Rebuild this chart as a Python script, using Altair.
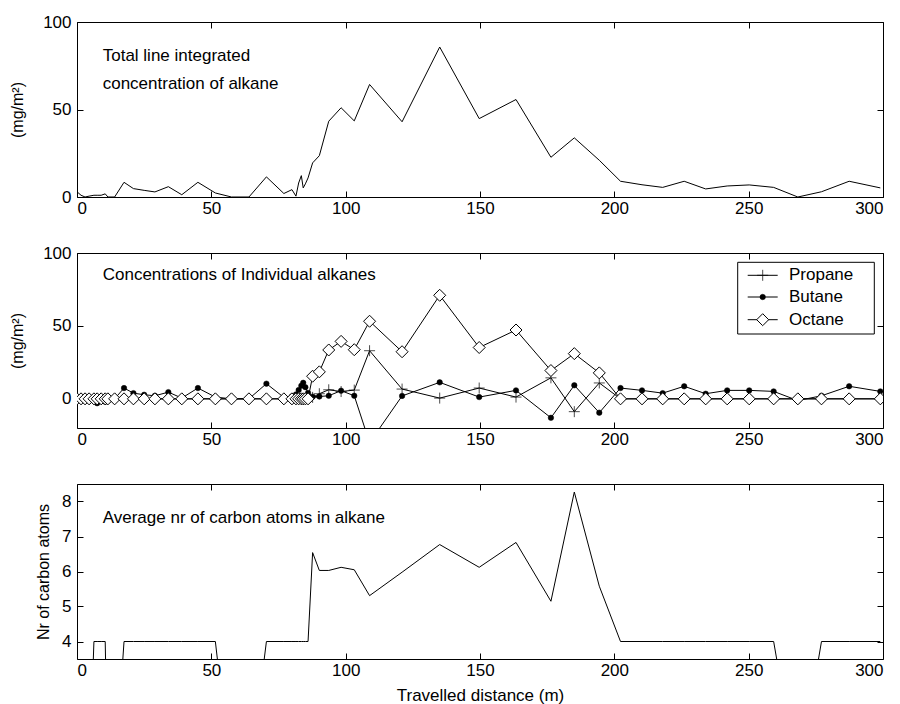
import altair as alt
import pandas as pd

# ---------------- data ----------------
distance = [0, 1.5, 3, 4.5, 6.3, 7.5, 9, 10.5, 11.5, 14, 17.5, 21, 25, 29, 34, 39, 45, 51.5,
            57.5, 64, 70.5, 77, 80, 81.5, 82.5, 83.5, 84.2, 85, 86, 87.7, 90.2, 93.7, 98.3,
            103.2, 108.9, 121, 135, 149.7, 163.4, 176.4, 185.1, 194.4, 202.3, 210.3, 218,
            226, 234, 242, 250.2, 259.3, 268.3, 277.1, 287.4, 299]

total = [3, 1, 0, 0.5, 1, 1, 1, 1.8, 0, 0, 8.4, 4.8, 3.8, 2.9, 5.9, 1.3, 8.4, 2.3,
         0, 0, 11.5, 2, 4.2, 0.5, 8, 12.2, 5.2, 7.5, 10.9, 19.5, 23.6, 43.3, 51,
         43.5, 64.3, 43, 85.7, 44.8, 55.7, 22.7, 33.8, 21, 9, 7, 5.5,
         9, 4.6, 6.3, 6.9, 5.5, 0, 3, 9, 5.2]

propane = [0, 0, 0, 0, 0, 0, 0, 0, 0, 0, 0, 0, 0, 0, 0, 0, 0, 0,
           0, 0, 0, 0, 0, 0, 0, 0, 0, 0, 0, 1, 3.5, 6.2, 5,
           6, 33, 6.7, 0.5, 7.4, 1.2, 14.4, -8.8, 10.9, 0, 0, 0,
           0, 0, 0, 0, 0, 0, 0, 0, 0]

butane = [1, 0, -1, 0, -1, -3, -1.5, -2, -1, 0, 7.4, 3.9, 2.8, 2.1, 4.6, 0.5, 7.4, 1.2,
          0, 0, 10.4, 1, 1.6, 3, 6, 9, 11, 8, 4, 1.5, 1.6, 2.1, 5.6,
          2.1, -30, 2, 11.3, 1.2, 5.8, -13, 9.3, -9.5, 7.4, 5.8, 3.9,
          8.6, 3.5, 5.8, 5.8, 5.1, -1.2, 2.1, 8.6, 5.1]

octane = [0, 0, 0, 0, 0, 0, 0, 0, 0, 0, 0, 0, 0, 0, 0, 0, 0, 0,
          0, 0, 0, 0, 0, 0, 0, 0, 0, 0, 0, 15.5, 18.5, 33.5, 39.4,
          33.7, 53.2, 32.3, 71, 35.2, 47.2, 19.4, 31, 17.8, 0, 0, 0,
          0, 0, 0, 0, 0, 0, 0, 0, 0]

avg_carbon = [4, 0, 0, 0, 4, 4, 4, 4, 0, 0, 4, 4, 4, 4, 4, 4, 4, 4,
              0, 0, 4, 4, 4, 4, 4, 4, 4, 4, 4, 6.54, 6.03, 6.03, 6.12,
              6.05, 5.31, 5.98, 6.77, 6.12, 6.83, 5.15, 8.27, 5.58, 4, 4, 4,
              4, 4, 4, 4, 4, 0, 4, 4, 4]

series_names = ["Propane", "Butane", "Octane"]
x_ticks = [0, 50, 100, 150, 200, 250, 300]
conc_ticks = [0, 50, 100]
carbon_ticks = [4, 5, 6, 7, 8]

FONT = "Liberation Sans"
W, H = 806, 175
PLUS = "M-1,0H1M0,-1V1"

# ---------------- helpers ----------------
def xscale():
    return alt.Scale(domain=[0, 300], nice=False, zero=False)

def axis_bottom(title=None):
    return alt.Axis(orient="bottom", values=x_ticks, offset=-6, tickSize=6, domain=False,
                    grid=False, labelPadding=3, labelFontSize=17, titleFontSize=17,
                    titleFontWeight="normal", titlePadding=9, title=title if title else "")

def axis_left(title, values, tpad):
    return alt.Axis(orient="left", values=values, offset=-6, tickSize=6, domain=False,
                    grid=False, labelPadding=6, labelFontSize=17, title=title,
                    titleFontSize=16, titleFontWeight="normal", titlePadding=tpad)

def axis_top():
    return alt.Axis(orient="top", values=x_ticks, offset=-6, tickSize=6, domain=False,
                    grid=False, labels=False, title="")

def axis_right(values):
    return alt.Axis(orient="right", values=values, offset=-6, tickSize=6, domain=False,
                    grid=False, labels=False, title="")

def frame_layer(df, xf, yf, ydom, yvals):
    return alt.Chart(df).mark_point(opacity=0, clip=True).encode(
        x=alt.X(xf, type="quantitative", scale=xscale(), axis=axis_top()),
        y=alt.Y(yf, type="quantitative", scale=alt.Scale(domain=ydom, nice=False, zero=False),
                axis=axis_right(yvals)),
    )

def label_layer(lines, y):
    return alt.Chart(pd.DataFrame({"k": [0]})).mark_text(
        align="left", baseline="alphabetic", fontSize=17, font=FONT, color="black",
        lineHeight=27.7
    ).encode(x=alt.value(25.7), y=alt.value(y), text=alt.value(lines))

# ---------------- panel 1 ----------------
df1 = pd.DataFrame({"x": distance, "y": total})
line1 = alt.Chart(df1).mark_line(color="black", strokeWidth=1, clip=True).encode(
    x=alt.X("x:Q", scale=xscale(), axis=axis_bottom()),
    y=alt.Y("y:Q", scale=alt.Scale(domain=[0, 100], nice=False, zero=False),
            axis=axis_left("(mg/m²)", conc_ticks, 17)),
)
p1 = alt.layer(
    line1,
    frame_layer(df1, "x", "y", [0, 100], conc_ticks),
    label_layer(["Total line integrated", "concentration of alkane"], 39),
).resolve_axis(x="independent", y="independent").properties(width=W, height=H)

# ---------------- panel 2 ----------------
df2 = pd.DataFrame({
    "x": distance * 3,
    "v": propane + butane + octane,
    "series": [series_names[0]] * len(distance) + [series_names[1]] * len(distance)
              + [series_names[2]] * len(distance),
})
y2 = alt.Scale(domain=[-20, 100], nice=False, zero=False)
lines2 = alt.Chart(df2).mark_line(color="black", strokeWidth=1, clip=True).encode(
    x=alt.X("x:Q", scale=xscale(), axis=axis_bottom()),
    y=alt.Y("v:Q", scale=y2, axis=axis_left("(mg/m²)", conc_ticks, 17)),
    detail="series:N",
)

def pts(name, **mk):
    return alt.Chart(df2).transform_filter(alt.datum.series == name).mark_point(
        clip=True, **mk
    ).encode(
        x=alt.X("x:Q", scale=xscale(), axis=None),
        y=alt.Y("v:Q", scale=y2, axis=None),
    )

marker_kw = [
    dict(shape=PLUS, size=121, filled=False, stroke="black", strokeWidth=1),
    dict(shape="circle", size=30, filled=True, fill="black", stroke="black", strokeWidth=0.5, opacity=1),
    dict(shape="diamond", size=144, filled=True, fill="white", stroke="black", strokeWidth=1, opacity=1),
]
point_layers = [pts(n, **mk) for n, mk in zip(series_names, marker_kw)]

# legend (inside upper right of panel 2)
leg_box = alt.Chart(pd.DataFrame({"k": [0]})).mark_rect(
    fill="white", stroke="black", strokeWidth=1
).encode(x=alt.value(660.7), x2=alt.value(797.3), y=alt.value(9.3), y2=alt.value(81))
leg_layers = [leg_box]
row_y = [22.3, 44.0, 66.7]
for name, yy, mk in zip(series_names, row_y, marker_kw):
    d = pd.DataFrame({"series": [name]})
    leg_layers.append(alt.Chart(d).mark_rule(color="black", strokeWidth=1).encode(
        x=alt.value(670.7), x2=alt.value(700.7), y=alt.value(yy)))
    leg_layers.append(alt.Chart(d).mark_point(**mk).encode(
        x=alt.value(685.7), y=alt.value(yy)))
    leg_layers.append(alt.Chart(d).mark_text(
        align="left", baseline="middle", fontSize=17, font=FONT, color="black"
    ).encode(x=alt.value(712), y=alt.value(yy), text="series:N"))

p2 = alt.layer(
    lines2, *point_layers,
    frame_layer(df2, "x", "v", [-20, 100], conc_ticks),
    label_layer(["Concentrations of Individual alkanes"], 27.3),
    *leg_layers,
).resolve_axis(x="independent", y="independent").properties(width=W, height=H)

# ---------------- panel 3 ----------------
df3 = pd.DataFrame({"x": distance, "c": avg_carbon})
line3 = alt.Chart(df3).mark_line(color="black", strokeWidth=1, clip=True).encode(
    x=alt.X("x:Q", scale=xscale(), axis=axis_bottom("Travelled distance (m)")),
    y=alt.Y("c:Q", scale=alt.Scale(domain=[3.5, 8.5], nice=False, zero=False),
            axis=axis_left("Nr of carbon atoms", carbon_ticks, 10)),
)
p3 = alt.layer(
    line3,
    frame_layer(df3, "x", "c", [3.5, 8.5], carbon_ticks),
    label_layer(["Average nr of carbon atoms in alkane"], 39),
).resolve_axis(x="independent", y="independent").properties(width=W, height=H)

chart = alt.vconcat(p1, p2, p3, spacing=56, bounds="flush").properties(
    padding={"left": 1, "top": 4, "right": 0, "bottom": 0},
    background="white",
).configure_view(stroke="black", strokeWidth=1).configure_axis(
    labelFont=FONT, titleFont=FONT, labelColor="black", titleColor="black",
    tickColor="black", tickWidth=1,
).configure_text(font=FONT)

chart.save("out.html", embed_options={"renderer": "svg", "actions": False})
